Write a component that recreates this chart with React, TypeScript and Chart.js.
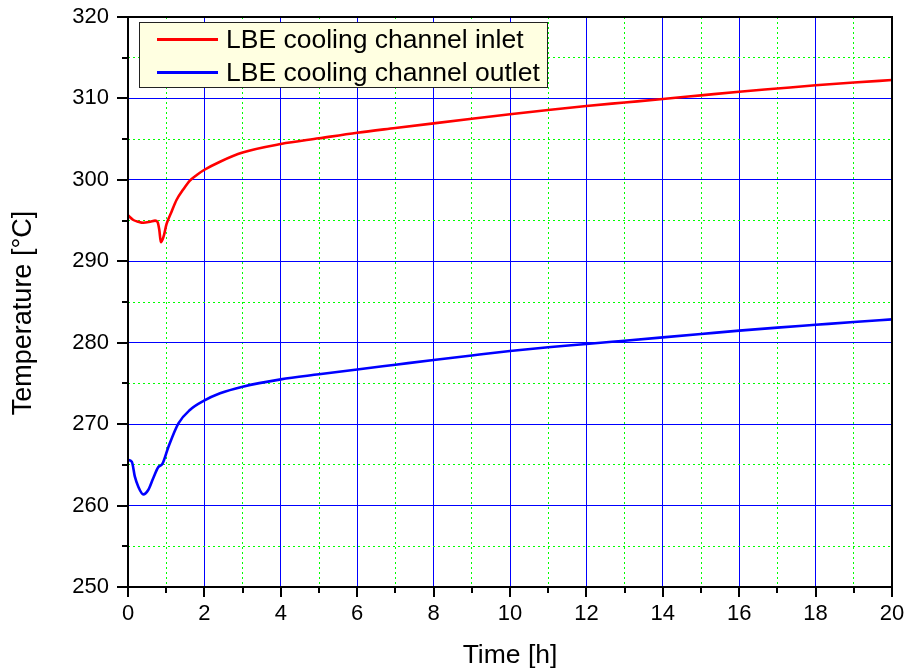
import React, { useEffect, useRef } from "react";
import { Chart, registerables } from "chart.js";

Chart.register(...registerables);

// ---- data ----
const inletTime = [0, 0.14, 0.27, 0.4, 0.58, 0.71, 0.77, 0.82, 0.86, 0.93, 1.01, 1.14, 1.27, 1.45, 1.62, 1.8, 1.99, 2.41, 3, 4, 5, 6, 7, 8, 9, 10, 11, 12, 13, 14, 15, 16, 17, 18, 19, 20];
const inletTemp = [295.65, 295.07, 294.86, 294.74, 294.86, 294.99, 294.86, 293.84, 292.33, 293.02, 294.58, 296.09, 297.53, 298.84, 299.9, 300.6, 301.21, 302.23, 303.35, 304.4, 305.1, 305.79, 306.37, 306.94, 307.5, 308.05, 308.58, 309.07, 309.5, 309.93, 310.38, 310.83, 311.22, 311.61, 311.95, 312.26];
const outletTime = [0, 0.1, 0.18, 0.27, 0.4, 0.53, 0.66, 0.79, 0.9, 1.06, 1.32, 1.62, 1.99, 2.41, 3, 4, 5, 6, 7, 8, 9, 10, 11, 12, 13, 14, 15, 16, 17, 18, 19, 20];
const outletTemp = [265.6, 265.39, 263.55, 262.32, 261.38, 261.91, 263.35, 264.7, 265.11, 267.23, 270.1, 271.74, 272.88, 273.79, 274.6, 275.5, 276.12, 276.72, 277.3, 277.88, 278.44, 278.98, 279.45, 279.84, 280.25, 280.66, 281.07, 281.48, 281.85, 282.2, 282.55, 282.87];
const seriesLabels = ["LBE cooling channel inlet", "LBE cooling channel outlet"];
const seriesColors = ["#ff0000", "#0000ff"];
const xRange = [0, 20];
const yRange = [250, 320];
const xAxisTitle = "Time [h]";
const yAxisTitle = "Temperature [°C]";

const FONT = "'Liberation Sans', Arial, Helvetica, sans-serif";

export default function App() {
  const ref = useRef<HTMLCanvasElement>(null);

  useEffect(() => {
    const canvas = ref.current!;
    const decor = {
      id: "decor",
      afterDraw(chart: any) {
        const { ctx, chartArea: a, scales } = chart;
        const xs = scales.x;
        const ys = scales.y;
        ctx.save();
        ctx.strokeStyle = "#000";
        ctx.lineWidth = 2;
        xs.ticks.forEach((t: any) => {
          const px = Math.round(xs.getPixelForValue(t.value));
          const major = t.value % 2 === 0;
          ctx.beginPath();
          ctx.moveTo(px, a.bottom);
          ctx.lineTo(px, a.bottom + (major ? 10 : 6));
          ctx.stroke();
        });
        ys.ticks.forEach((t: any) => {
          const py = Math.round(ys.getPixelForValue(t.value));
          const major = t.value % 10 === 0;
          ctx.beginPath();
          ctx.moveTo(a.left, py);
          ctx.lineTo(a.left - (major ? 11 : 6), py);
          ctx.stroke();
        });
        // frame
        ctx.strokeRect(a.left, a.top, a.right - a.left, a.bottom - a.top);

        // y axis title
        ctx.save();
        ctx.translate(24, 313);
        ctx.rotate(-Math.PI / 2);
        ctx.font = "27px " + FONT;
        ctx.fillStyle = "#000";
        ctx.textAlign = "center";
        ctx.textBaseline = "middle";
        ctx.fillText(yAxisTitle, 0, 0);
        ctx.restore();

        // legend
        const lx = 139.5, ly = 22.5, lw = 408, lh = 65;
        ctx.fillStyle = "#ffffe1";
        ctx.fillRect(lx, ly, lw, lh);
        ctx.lineWidth = 1;
        ctx.strokeStyle = "#222";
        ctx.strokeRect(lx, ly, lw, lh);
        ctx.font = "26.5px " + FONT;
        ctx.textBaseline = "middle";
        ctx.textAlign = "left";
        chart.data.datasets.forEach((ds: any, i: number) => {
          const y = 39.5 + i * 33;
          ctx.strokeStyle = ds.borderColor;
          ctx.lineWidth = 3;
          ctx.beginPath();
          ctx.moveTo(157, y);
          ctx.lineTo(218, y);
          ctx.stroke();
          ctx.fillStyle = "#000";
          ctx.fillText(ds.label, 226, y + 1);
        });
        ctx.restore();
      },
    };

    const gridColor = (major: (v: number) => boolean) => (c: any) =>
      c.tick && !major(c.tick.value) ? "#00ff00" : "#0000ff";
    const gridDash = (major: (v: number) => boolean) => (c: any) =>
      c.tick && !major(c.tick.value) ? [2, 3] : [];
    const xMajor = (v: number) => v % 2 === 0;
    const yMajor = (v: number) => v % 10 === 0;

    const chart = new Chart(canvas, {
      type: "line",
      data: {
        datasets: [
          {
            label: seriesLabels[0],
            data: inletTime.map((t, i) => ({ x: t, y: inletTemp[i] })),
            borderColor: seriesColors[0],
            backgroundColor: seriesColors[0],
            borderWidth: 2.6,
            pointRadius: 0,
            cubicInterpolationMode: "monotone",
          },
          {
            label: seriesLabels[1],
            data: outletTime.map((t, i) => ({ x: t, y: outletTemp[i] })),
            borderColor: seriesColors[1],
            backgroundColor: seriesColors[1],
            borderWidth: 2.6,
            pointRadius: 0,
            cubicInterpolationMode: "monotone",
          },
        ],
      },
      options: {
        responsive: false,
        animation: false,
        devicePixelRatio: 1,
        layout: { padding: { top: 17, right: 16, left: 0, bottom: 0 } },
        plugins: { legend: { display: false }, tooltip: { enabled: false } },
        scales: {
          x: {
            type: "linear",
            min: xRange[0],
            max: xRange[1],
            afterFit: (s: any) => {
              s.height = 85;
              s.paddingLeft = 0;
              s.paddingRight = 0;
            },
            ticks: {
              stepSize: 1,
              autoSkip: false,
              maxRotation: 0,
              padding: 14,
              color: "#000",
              font: { family: FONT, size: 22 },
              callback: (v: any) => (xMajor(Number(v)) ? String(v) : ""),
            },
            grid: { color: gridColor(xMajor), lineWidth: 1, drawTicks: false },
            border: { display: false, dash: gridDash(xMajor) },
            title: {
              display: true,
              text: xAxisTitle,
              color: "#000",
              font: { family: FONT, size: 26.5 },
              padding: { top: 0, bottom: 0 },
            },
          },
          y: {
            type: "linear",
            min: yRange[0],
            max: yRange[1],
            afterFit: (s: any) => {
              s.width = 128;
              s.paddingTop = 0;
              s.paddingBottom = 0;
            },
            ticks: {
              stepSize: 5,
              autoSkip: false,
              padding: 19,
              color: "#000",
              font: { family: FONT, size: 22 },
              callback: (v: any) => (yMajor(Number(v)) ? String(v) : ""),
            },
            grid: { color: gridColor(yMajor), lineWidth: 1, drawTicks: false },
            border: { display: false, dash: gridDash(yMajor) },
            title: { display: false },
          },
        },
      },
      plugins: [decor],
    } as any);

    return () => chart.destroy();
  }, []);

  return (
    <div style={{ position: "fixed", left: 0, top: 0, width: 908, height: 672, background: "#fff" }}>
      <canvas ref={ref} width={908} height={672} style={{ display: "block" }} />
    </div>
  );
}
